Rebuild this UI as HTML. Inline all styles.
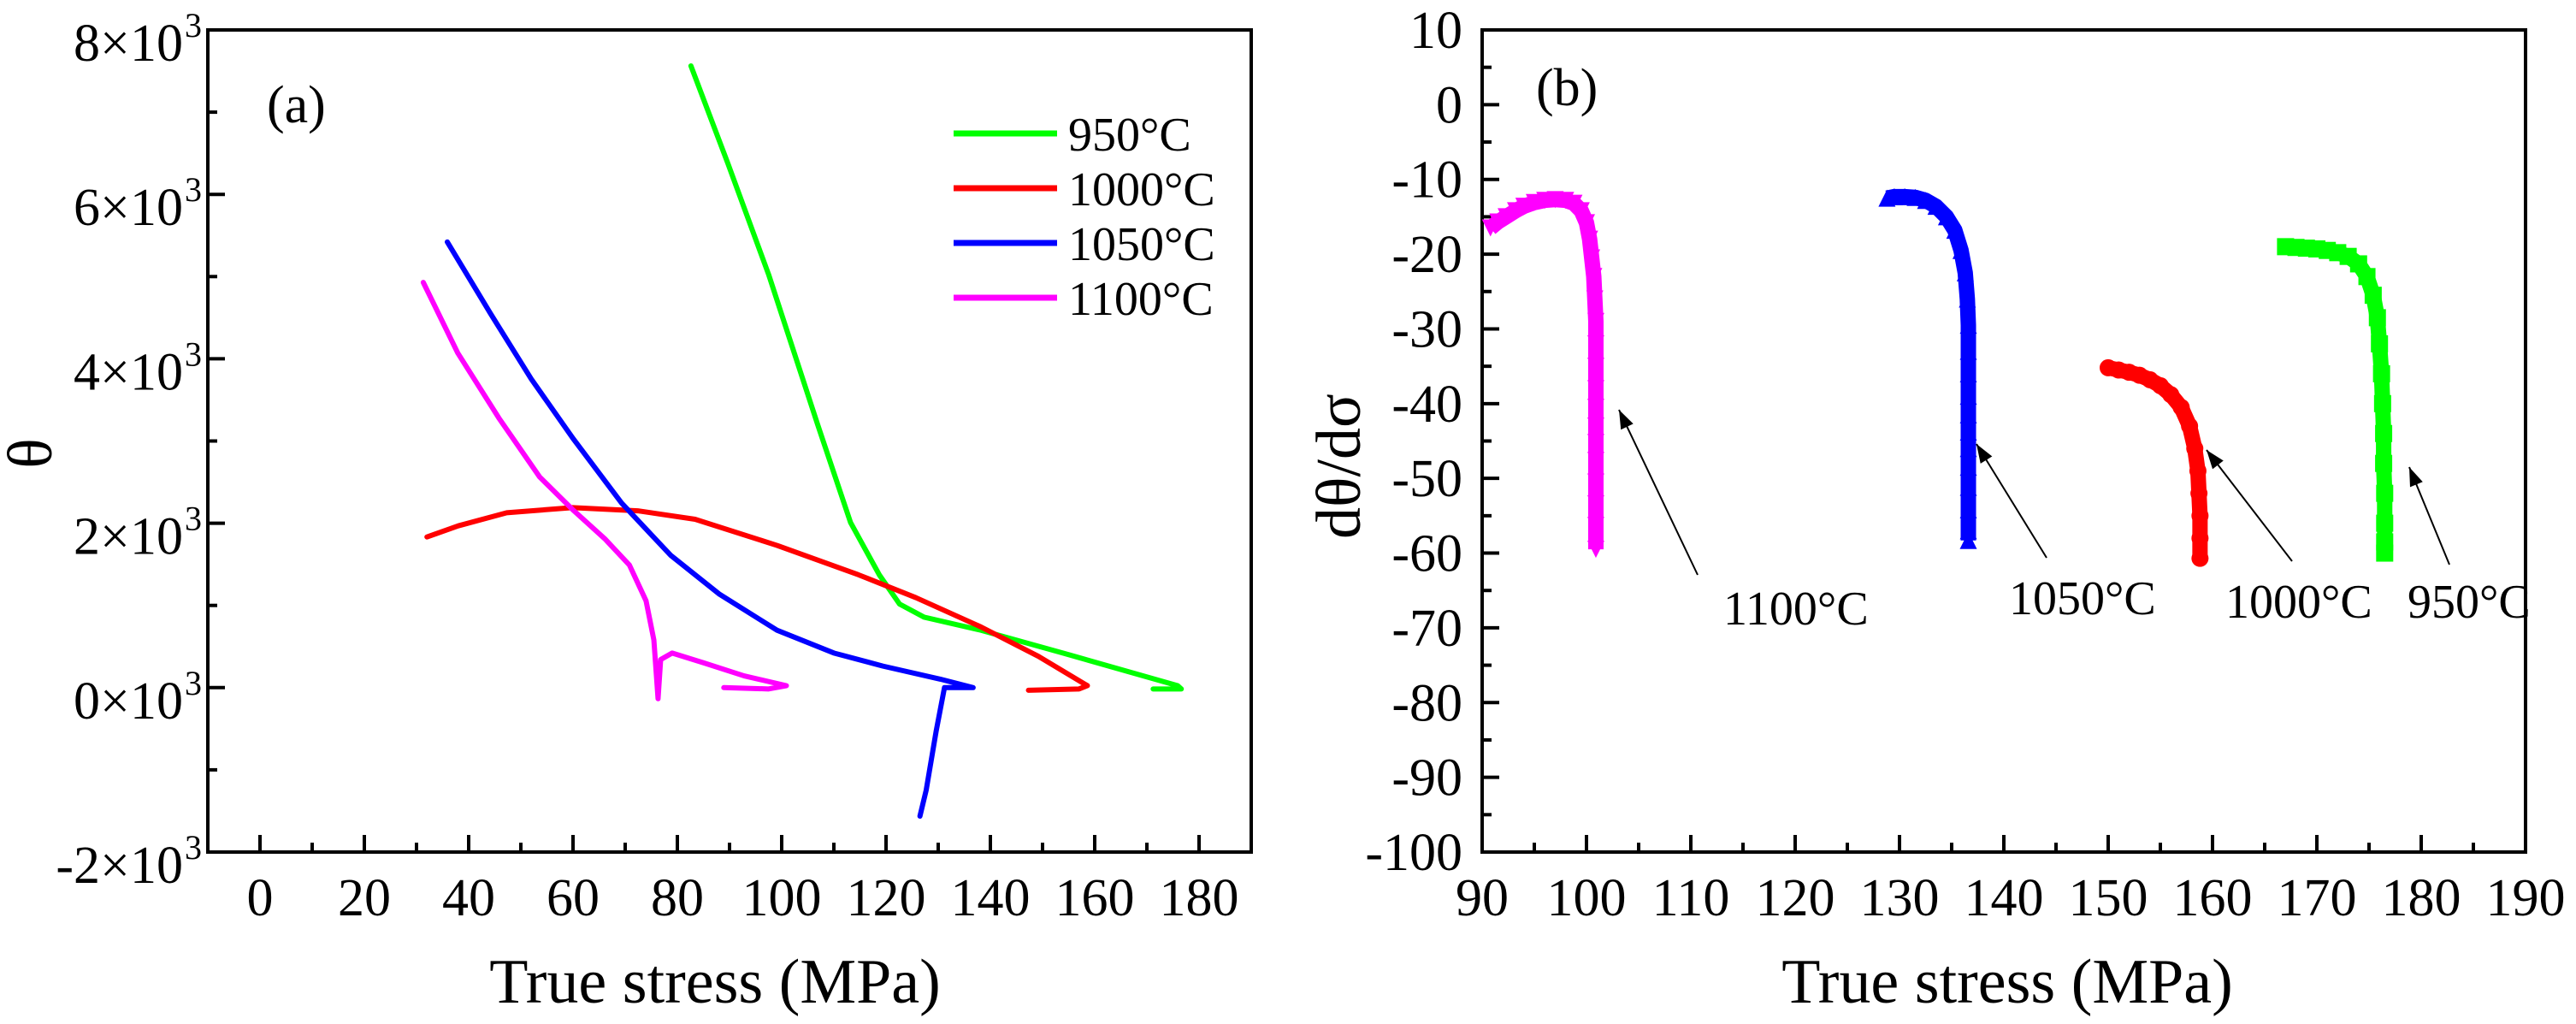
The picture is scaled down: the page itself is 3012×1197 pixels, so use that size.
<!DOCTYPE html>
<html><head><meta charset="utf-8"><style>
html,body{margin:0;padding:0;background:#fff}
svg{display:block;font-family:"Liberation Serif",serif}
</style></head><body>
<svg id="chart" width="3012" height="1197" viewBox="0 0 3012 1197" xmlns="http://www.w3.org/2000/svg">
<g id="pa"></g>
<g id="pb"></g>
</svg>
<script>
// Panel (a) data: theta vs true stress
const aXTicks = [0,20,40,60,80,100,120,140,160,180];
const aYTicks = [-2,0,2,4,6,8];
const aSeriesNames = ["950°C","1000°C","1050°C","1100°C"];
const aColors = ["#00ff00","#ff0000","#0000ff","#ff00ff"];
const a950x = [82.6,89.7,97.5,106.9,113.2,118.7,122.6,127.3,138.2,153.9,175.9,176.6,171.2,176.6];
const a950y = [7563,6373,5024,3198,2008,1373,1016,857,698,421,24,-16,-16,-16];
const a1000x = [32,38,47.3,59.9,72.4,83.4,99.1,114.7,125.7,138.2,149.2,158.6,157,147.3];
const a1000y = [1833,1968,2127,2190,2151,2048,1730,1373,1095,738,381,24,-16,-32];
const a1050x = [35.9,44.2,52,59.9,69.3,78.7,88.1,99.1,110,119.4,130.4,136.7,131.2,129.6,127.7,126.5];
const a1050y = [5421,4548,3754,3040,2246,1611,1135,698,421,262,103,0,0,-532,-1246,-1563];
const a1100x = [31.3,37.9,45.8,53.6,59.9,66.1,70.8,74,75.5,76.3,76.8,79,85,92.8,100.9,97.5,88.9];
const a1100y = [4929,4071,3278,2563,2167,1810,1492,1056,579,-135,341,421,302,143,24,-16,0];

// Panel (b) data: dtheta/dsigma vs true stress
const bXTicks = [90,100,110,120,130,140,150,160,170,180,190];
const bYTicks = [10,0,-10,-20,-30,-40,-50,-60,-70,-80,-90,-100];
const b1100x = [90.8,91.5,92.3,93.2,94,95,96,97,98,98.8,99.5,100,100.3,100.5,100.7,100.8,100.9,100.9,100.9,100.9,100.9,100.9,100.9,100.9,100.9,100.9,100.9,100.9];
const b1100y = [-16.5,-15.7,-15,-14.2,-13.6,-13.1,-12.8,-12.7,-12.8,-13.2,-14.2,-15.8,-18,-20.5,-23,-26,-29,-32,-35,-38,-40.5,-43,-45.2,-47.6,-50.5,-53.4,-56.3,-59.5];
const b1050x = [128.8,129.5,130.5,131.5,132.5,133.5,134.5,135.3,135.9,136.3,136.5,136.6,136.6,136.6,136.6,136.6,136.6,136.6,136.6,136.6,136.6,136.6,136.6];
const b1050y = [-12.5,-12.3,-12.3,-12.4,-12.8,-13.6,-15,-16.8,-19.5,-22.5,-26,-29.5,-33,-36,-39,-41.5,-43.8,-46,-48.5,-51.2,-54.2,-57,-58.3];
const b1000x = [150,151,152,153,154,155,156,157,157.8,158.3,158.6,158.7,158.8,158.8,158.8];
const b1000y = [-35.2,-35.5,-35.8,-36.2,-36.8,-37.6,-38.8,-40.5,-43,-46,-49,-52,-55,-58,-60.7];
const b950x = [167,168,169,170,171,172,173,174,174.8,175.4,175.8,176,176.2,176.3,176.4,176.4,176.5,176.5,176.5,176.5];
const b950y = [-19,-19.1,-19.2,-19.3,-19.5,-19.8,-20.3,-21.3,-23,-25.5,-28.5,-32,-36,-40,-44,-48,-52,-56,-58.5,-60];

const NS="http://www.w3.org/2000/svg";
function mk(parent,tag,attrs,text){const e=document.createElementNS(NS,tag);for(const k in attrs)e.setAttribute(k,attrs[k]);if(text!==undefined)e.textContent=text;parent.appendChild(e);return e;}

// ---------- Panel A ----------
const pa=document.getElementById('pa');
const AL=243,AR=1463,AT=35,AB=996;
const ax=v=>AL+(v+10)/200*(AR-AL);
const ay=v=>AB-(v+2000)/10000*(AB-AT);
let f=mk(pa,'rect',{x:AL,y:AT,width:AR-AL,height:AB-AT,fill:'none',stroke:'#000','stroke-width':4});

for(let v=0;v<=180;v+=10){const major=v%20===0;
 let t=mk(pa,'line',{x1:ax(v),x2:ax(v),y1:AB,y2:AB-(major?20:11),stroke:'#000','stroke-width':4});
 }
aXTicks.forEach(v=>{let t=mk(pa,'text',{x:ax(v),y:1070,'font-size':62,'text-anchor':'middle'},String(v));
 });
for(let v=-2000;v<=8000;v+=1000){const major=v%2000===0;
 let t=mk(pa,'line',{x1:AL,x2:AL+(major?20:11),y1:ay(v),y2:ay(v),stroke:'#000','stroke-width':4});
 }
aYTicks.forEach(v=>{let t=mk(pa,'text',{x:214,y:ay(v*1000)+36,'font-size':62,'text-anchor':'end'});
 t.textContent=v+'×10';
 
 let s=mk(pa,'text',{x:216,y:ay(v*1000)+8,'font-size':40,'text-anchor':'start'},'3');
 });
let tl=mk(pa,'text',{x:836,y:1172,'font-size':74,'text-anchor':'middle'},'True stress (MPa)');

tl=mk(pa,'text',{x:60,y:530,'font-size':74,'text-anchor':'middle',transform:'rotate(-90 60 530)'},'θ');

tl=mk(pa,'text',{x:312,y:143,'font-size':62,'text-anchor':'start'},'(a)');

const aXs=[a950x,a1000x,a1050x,a1100x],aYs=[a950y,a1000y,a1050y,a1100y];
aXs.forEach((xs,i)=>{const pts=xs.map((x,j)=>ax(x)+','+ay(aYs[i][j])).join(' ');
 let p=mk(pa,'polyline',{points:pts,fill:'none',stroke:aColors[i],'stroke-width':6,'stroke-linejoin':'round','stroke-linecap':'round'});
 
 const ly=156+i*64;
 let l=mk(pa,'line',{x1:1115,x2:1236,y1:ly,y2:ly,stroke:aColors[i],'stroke-width':7});
 
 let lt=mk(pa,'text',{x:1249,y:ly+20,'font-size':56},aSeriesNames[i]);
 });

// ---------- Panel B ----------
const pb=document.getElementById('pb');
const BL=1733,BR=2953,BT=35,BB=996;
const bx=v=>BL+(v-90)/100*(BR-BL);
const by=v=>BB-(v+100)/110*(BB-BT);
f=mk(pb,'rect',{x:BL,y:BT,width:BR-BL,height:BB-BT,fill:'none',stroke:'#000','stroke-width':4});

for(let v=90;v<=190;v+=5){const major=v%10===0;
 let t=mk(pb,'line',{x1:bx(v),x2:bx(v),y1:BB,y2:BB-(major?20:11),stroke:'#000','stroke-width':4});
 }
bXTicks.forEach(v=>{let t=mk(pb,'text',{x:bx(v),y:1070,'font-size':62,'text-anchor':'middle'},String(v));
 });
for(let v=-100;v<=10;v+=5){const major=v%10===0;
 let t=mk(pb,'line',{x1:BL,x2:BL+(major?20:11),y1:by(v),y2:by(v),stroke:'#000','stroke-width':4});
 }
bYTicks.forEach(v=>{let t=mk(pb,'text',{x:1710,y:by(v)+21,'font-size':62,'text-anchor':'end'},String(v));
 });
tl=mk(pb,'text',{x:2347,y:1172,'font-size':74,'text-anchor':'middle'},'True stress (MPa)');

tl=mk(pb,'text',{x:1590,y:545,'font-size':74,'text-anchor':'middle',transform:'rotate(-90 1590 545)'},'dθ/dσ');

tl=mk(pb,'text',{x:1796,y:123,'font-size':62},'(b)');


function marker(g,shape,x,y,c){const s=10;let e;
 if(shape==='down')e=mk(g,'polygon',{points:`${x-s},${y-s} ${x+s},${y-s} ${x},${y+s}`,fill:c});
 else if(shape==='up')e=mk(g,'polygon',{points:`${x-s},${y+s} ${x+s},${y+s} ${x},${y-s}`,fill:c});
 else if(shape==='circle')e=mk(g,'circle',{cx:x,cy:y,r:s,fill:c});
 else e=mk(g,'rect',{x:x-s,y:y-s,width:2*s,height:2*s,fill:c});
 }
const bSets=[[b1100x,b1100y,'#ff00ff','down','1100c'],[b1050x,b1050y,'#0000ff','up','1050c'],[b1000x,b1000y,'#ff0000','circle','1000c'],[b950x,b950y,'#00ff00','square','950c']];
bSets.forEach(([xs,ys,c,sh,nm])=>{
 const g=mk(pb,'g',{});
 const pts=xs.map((x,j)=>bx(x)+','+by(ys[j])).join(' ');
 let p=mk(g,'polyline',{points:pts,fill:'none',stroke:c,'stroke-width':18,'stroke-linejoin':'round'});
 
 xs.forEach((x,j)=>marker(g,sh,bx(x),by(ys[j]),c));});

const ann=[["1100°C",2015,730,1985,672,1893,479],["1050°C",2349,718,2393,652,2311,519],["1000°C",2602,722,2680,656,2580,526],["950°C",2815,722,2864,660,2817,546]];
ann.forEach(([t,tx,ty,x1,y1,x2,y2])=>{
 let txt=mk(pb,'text',{x:tx,y:ty,'font-size':56},t);
 
 let l=mk(pb,'line',{x1:x1,y1:y1,x2:x2,y2:y2,stroke:'#000','stroke-width':2});
 
 const a=Math.atan2(y2-y1,x2-x1),L=22,W=8;
 const bxp=x2-L*Math.cos(a),byp=y2-L*Math.sin(a);
 let h=mk(pb,'polygon',{points:`${x2},${y2} ${bxp+W*Math.sin(a)},${byp-W*Math.cos(a)} ${bxp-W*Math.sin(a)},${byp+W*Math.cos(a)}`,fill:'#000'});
 });
</script>
</body></html>
